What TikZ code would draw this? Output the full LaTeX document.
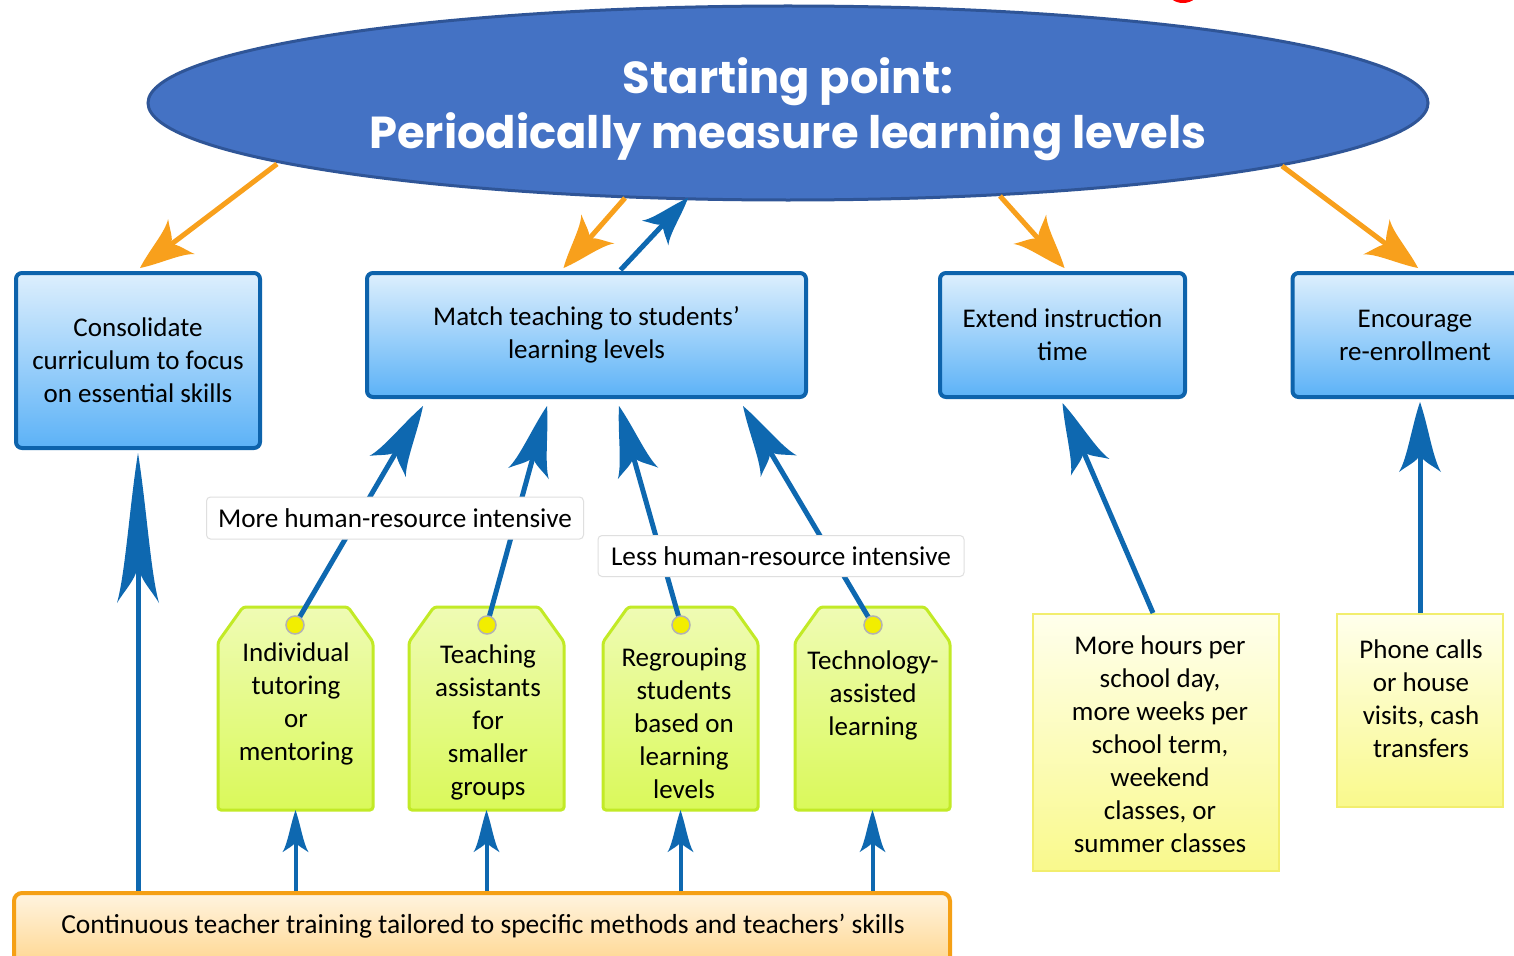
\documentclass[tikz,border=0pt]{standalone}
\usepackage{fontspec}
\setmainfont{Carlito}
\newfontfamily\titlefont{Poppins}
\usetikzlibrary{arrows.meta,shapes.geometric}

\pgfdeclarearrow{
  name = Spear,
  parameters = {\the\pgfarrowlength,\the\pgfarrowwidth},
  setup code = {
    \pgfarrowssettipend{0pt}
    \pgfarrowssetlineend{-.7\pgfarrowlength}
    \pgfarrowssetbackend{-\pgfarrowlength}
    \pgfarrowssavethe\pgfarrowlength
    \pgfarrowssavethe\pgfarrowwidth
  },
  drawing code = {
    \pgfpathmoveto{\pgfqpoint{0pt}{0pt}}
    \pgfpathcurveto{\pgfpoint{-.35\pgfarrowlength}{.2\pgfarrowwidth}}{\pgfpoint{-.8\pgfarrowlength}{.3\pgfarrowwidth}}{\pgfpoint{-\pgfarrowlength}{.5\pgfarrowwidth}}
    \pgfpathcurveto{\pgfpoint{-.9\pgfarrowlength}{.28\pgfarrowwidth}}{\pgfpoint{-.86\pgfarrowlength}{.1\pgfarrowwidth}}{\pgfpoint{-.76\pgfarrowlength}{0pt}}
    \pgfpathcurveto{\pgfpoint{-.86\pgfarrowlength}{-.1\pgfarrowwidth}}{\pgfpoint{-.9\pgfarrowlength}{-.28\pgfarrowwidth}}{\pgfpoint{-\pgfarrowlength}{-.5\pgfarrowwidth}}
    \pgfpathcurveto{\pgfpoint{-.8\pgfarrowlength}{-.3\pgfarrowwidth}}{\pgfpoint{-.35\pgfarrowlength}{-.2\pgfarrowwidth}}{\pgfqpoint{0pt}{0pt}}
    \pgfpathclose
    \pgfusepathqfill
  },
  defaults = {length = 60pt, width = 40pt}
}

\definecolor{ellfill}{HTML}{4472C4}
\definecolor{elldraw}{HTML}{2F5597}
\definecolor{bdark}{HTML}{0D63AC}
\definecolor{btop}{HTML}{DDEFFD}
\definecolor{bbot}{HTML}{5CB2F7}
\definecolor{arrblue}{HTML}{0E68B0}
\definecolor{arrorange}{HTML}{F8A01C}
\definecolor{ltop}{HTML}{EFFBB4}
\definecolor{lbot}{HTML}{DAF95A}
\definecolor{ldraw}{HTML}{C2EA26}
\definecolor{ytop}{HTML}{FFFFEC}
\definecolor{ybot}{HTML}{F9F98C}
\definecolor{ydraw}{HTML}{F2EE6E}
\definecolor{otop}{HTML}{FFF4E0}
\definecolor{obot}{HTML}{FFD68E}
\definecolor{odraw}{HTML}{F5A015}
\definecolor{holefill}{HTML}{F2EE00}

\tikzset{
  txt/.style={align=center, font=\fontsize{27}{33}\selectfont, inner sep=0pt},
  bluebox/.style={txt, draw=bdark, line width=4pt, rounded corners=6pt, top color=btop, bottom color=bbot},
  tagshape/.style={draw=ldraw, line width=3pt, rounded corners=3pt, top color=ltop, bottom color=lbot},
  anchorbox/.style={inner sep=0pt},
  hole/.style={circle, fill=holefill, draw=gray!60, line width=1.5pt, minimum size=18pt, inner sep=0pt},
  ybox/.style={draw=ydraw, line width=2pt, top color=ytop, bottom color=ybot, inner sep=0pt},
  obox/.style={draw=odraw, line width=4pt, rounded corners=8pt, top color=otop, bottom color=obot, inner sep=0pt},
  lab/.style={txt, font=\fontsize{27.2}{30}\selectfont, fill=white, draw=gray!25, line width=1pt, rounded corners=4pt},
  barr/.style={draw=arrblue, color=arrblue, line width=5pt, -{Spear[length=70pt,width=42pt]}},
  barrs/.style={draw=arrblue, color=arrblue, line width=4pt, -{Spear[length=42pt,width=26pt]}},
  barrlong/.style={draw=arrblue, color=arrblue, line width=5pt, -{Spear[length=150pt,width=42pt]}},
  barrm/.style={draw=arrblue, color=arrblue, line width=5pt, -{Spear[length=48pt,width=36pt]}},
  oarr/.style={draw=arrorange, color=arrorange, line width=5pt, -{Spear[length=52pt,width=44pt]}},
}

\begin{document}
\begin{tikzpicture}[x=1pt,y=-1pt]
\useasboundingbox (0,0) rectangle (1514,955);
\clip (0,0) rectangle (1514,955);
\fill[white] (0,0) rectangle (1514,955);

% small red mark at the top edge
\fill[red] (1183,-10) ellipse [x radius=16, y radius=13];

% top ellipse
\node[ellipse, fill=ellfill, draw=elldraw, line width=3pt, minimum width=1280pt, minimum height=194pt, inner sep=0pt] (ell) at (788,103) {};
\node[text=white, align=center, inner sep=0pt, font=\titlefont\bfseries\fontsize{44.8}{55}\selectfont] (title) at (788,109)
      {Starting point:\\Periodically measure learning levels};

% main boxes
\node[bluebox, minimum width=244pt, minimum height=175pt] (cons) at (138,360.5)
  {Consolidate\\curriculum to focus\\on essential skills};
\node[bluebox, minimum width=439pt, minimum height=124pt] (match) at (586.5,335)
  {Match teaching to students’\\learning levels};
\node[bluebox, minimum width=245pt, minimum height=124pt] (ext) at (1062.5,335)
  {Extend instruction\\time};
\node[bluebox, minimum width=245pt, minimum height=124pt] (enc) at (1415,335)
  {Encourage\\re-enrollment};

% tags
\filldraw[tagshape] (218,642) -- (243,607) -- (348,607) -- (373,642) -- (373,810) -- (218,810) -- cycle;
\filldraw[tagshape] (409,642) -- (434,607) -- (539,607) -- (564,642) -- (564,810) -- (409,810) -- cycle;
\filldraw[tagshape] (603,642) -- (628,607) -- (733,607) -- (758,642) -- (758,810) -- (603,810) -- cycle;
\filldraw[tagshape] (795,642) -- (820,607) -- (925,607) -- (950,642) -- (950,810) -- (795,810) -- cycle;
\node[anchorbox, minimum width=155pt, minimum height=203pt] (t1) at (295.5,708.5) {};
\node[anchorbox, minimum width=155pt, minimum height=203pt] (t2) at (486.5,708.5) {};
\node[anchorbox, minimum width=155pt, minimum height=203pt] (t3) at (680.5,708.5) {};
\node[anchorbox, minimum width=155pt, minimum height=203pt] (t4) at (872.5,708.5) {};
\node[txt] (tx1) at (296,704) {Individual\\tutoring\\or\\mentoring};
\node[txt] (tx2) at (488,722) {Teaching\\assistants\\for\\smaller\\groups};
\node[txt] (tx3) at (684,723.5) {Regrouping\\students\\based on\\learning\\levels};
\node[txt] (tx4) at (873,695) {Technology-\\assisted\\learning};

% yellow boxes
\node[ybox, minimum width=246pt, minimum height=257pt] (y1) at (1156,742.5) {};
\node[txt] (y1t) at (1160,744.5) {More hours per\\school day,\\more weeks per\\school term,\\weekend\\classes, or\\summer classes};
\node[ybox, minimum width=166pt, minimum height=193pt] (y2) at (1420,710.5) {};
\node[txt] (y2t) at (1421,699) {Phone calls\\or house\\visits, cash\\transfers};

% bottom box
\node[obox, minimum width=936pt, minimum height=74pt] (train) at (482,930) {};
\node[txt, font=\fontsize{27.5}{30}\selectfont] (traint) at (483,926)
  {Continuous teacher training tailored to specific methods and teachers’ skills};

% orange arrows
\draw[oarr] ([shift={(-511,61)}]ell.center) -- ([shift={(2,-3)}]cons.north);
\draw[oarr] ([shift={(-163,95)}]ell.center) -- ([shift={(-23,-3)}]match.north);
\draw[oarr] ([shift={(212,93)}]ell.center) -- ([shift={(2,-3)}]ext.north);
\draw[oarr] ([shift={(494,63)}]ell.center) -- ([shift={(3,-3)}]enc.north);
% feedback to ellipse
\draw[barrm] ([shift={(34,-1)}]match.north) -- ([shift={(-100,95)}]ell.center);

% tag -> match arrows
\coordinate (m1) at ([shift={(58,7)}]match.south west);
\coordinate (m2) at ([shift={(182,7)}]match.south west);
\coordinate (m3) at ([shift={(254,7)}]match.south west);
\coordinate (m4) at ([shift={(378,7)}]match.south west);
\coordinate (h1c) at (295,625);
\coordinate (h2c) at (487,625);
\coordinate (h3c) at (681,625);
\coordinate (h4c) at (873,625);
\draw[barr] (h1c) -- (m1);
\draw[barr] (h2c) -- (m2);
\draw[barr] (h3c) -- (m3);
\draw[barr] (h4c) -- (m4);
\node[hole] (h1) at (h1c) {};
\node[hole] (h2) at (h2c) {};
\node[hole] (h3) at (h3c) {};
\node[hole] (h4) at (h4c) {};

% yellow boxes -> boxes
\draw[barr] ([xshift=-3pt]y1.north) -- ([shift={(0,4)}]ext.south);
\draw[barr] (y2.north) -- ([shift={(0,3)}]y2.north |- enc.south);

% bottom arrows
\draw[barrlong] (cons.south |- train.north) -- ([shift={(0,3)}]cons.south);
\draw[barrs] (t1.south |- train.north) -- (t1.south);
\draw[barrs] (t2.south |- train.north) -- (t2.south);
\draw[barrs] (t3.south |- train.north) -- (t3.south);
\draw[barrs] (t4.south |- train.north) -- (t4.south);

% labels
\node[lab, minimum width=377pt, minimum height=42pt] (lab1) at (395,518) {More human-resource intensive};
\node[lab, minimum width=366pt, minimum height=41pt] (lab2) at (781,556) {Less human-resource intensive};
\end{tikzpicture}
\end{document}
